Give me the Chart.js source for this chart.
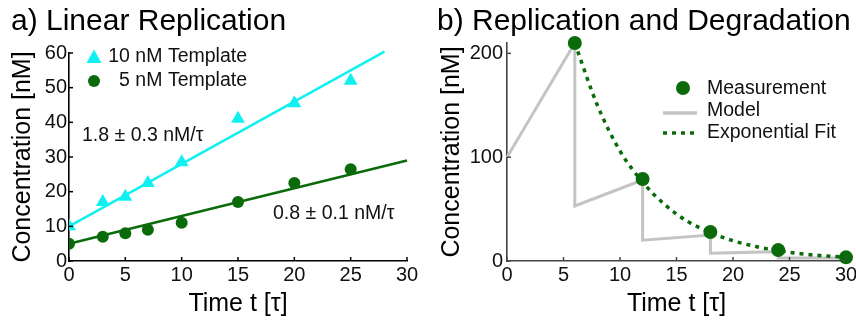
<!DOCTYPE html>
<html>
<head>
<meta charset="utf-8">
<script src="https://cdn.jsdelivr.net/npm/chart.js@4.4.1/dist/chart.umd.min.js"></script>
<style>
html,body{margin:0;padding:0;background:#fff;overflow:hidden;width:856px;height:322px;}
#wa{position:absolute;left:0;top:0;width:430px;height:322px;}
#wb{position:absolute;left:430px;top:0;width:440px;height:322px;}
</style>
</head>
<body>
<div id="wa"><canvas id="ca" width="430" height="322"></canvas></div>
<div id="wb"><canvas id="cb" width="440" height="322"></canvas></div>
<script>
// ---------- Panel a data ----------
const timesA = [0, 3, 5, 7, 10, 15, 20, 25];
const conc10nM = [10, 17, 18.5, 22.5, 28.5, 41, 45.5, 52];
const conc5nM = [5, 7, 8, 9, 11, 17, 22.5, 26.5];
const fitTimes10 = [0, 28];
const fitConc10 = [10, 60.4];
const fitTimes5 = [0, 30];
const fitConc5 = [5, 29];
const slopeTexts = ['1.8 ± 0.3 nM/τ', '0.8 ± 0.1 nM/τ'];
const legendA = ['10 nM Template', '5 nM Template'];
const xTicksA = [0, 5, 10, 15, 20, 25, 30];
const yTicksA = [0, 10, 20, 30, 40, 50, 60];

// ---------- Panel b data ----------
const timesB = [6, 12, 18, 24, 30];
const measB = [210, 79, 28, 10.5, 3.5];
const modelTimes = [0, 6, 6, 12, 12, 18, 18, 24, 24, 30];
const modelConc = [100, 210, 53, 78, 20, 25, 7.5, 9, 3, 3];
const expTimes = [6, 8, 10, 12, 14, 16, 18, 20, 22, 24, 26, 28, 30];
const expConc = [210, 150, 106, 76, 54, 38, 27.5, 19.5, 14, 10, 7, 5, 3.6];
const legendB = ['Measurement', 'Model', 'Exponential Fit'];
const xTicksB = [0, 5, 10, 15, 20, 25, 30];
const yTicksB = [0, 100, 200];

const titles = ['a) Linear Replication', 'b) Replication and Degradation'];
const FAM = '"Liberation Sans", Arial, Helvetica, sans-serif';
const CYAN = '#10f0f0';
const GREEN = '#0b6b0b';
const GRAY = '#c4c4c4';

const zip = (xs, ys) => xs.map((x, i) => ({x: x, y: ys[i]}));

function inwardTicks(color, len, width) {
  return {
    id: 'inwardTicks',
    afterDraw(chart) {
      const ctx = chart.ctx, a = chart.chartArea;
      ctx.save();
      ctx.strokeStyle = color; ctx.lineWidth = width;
      const xs = chart.scales.x, ys = chart.scales.y;
      xs.ticks.forEach(t => {
        const p = xs.getPixelForValue(t.value);
        ctx.beginPath(); ctx.moveTo(p, a.bottom); ctx.lineTo(p, a.bottom - len); ctx.stroke();
      });
      ys.ticks.forEach(t => {
        const p = ys.getPixelForValue(t.value);
        ctx.beginPath(); ctx.moveTo(a.left, p); ctx.lineTo(a.left + len, p); ctx.stroke();
      });
      ctx.restore();
    }
  };
}

function titlePlugin(text, x, y) {
  return {
    id: 'panelTitle',
    afterDraw(chart) {
      const ctx = chart.ctx;
      ctx.save();
      ctx.font = '30px ' + FAM;
      ctx.fillStyle = '#000';
      ctx.textAlign = 'left'; ctx.textBaseline = 'alphabetic';
      ctx.fillText(text, x, y);
      ctx.restore();
    }
  };
}

function axisCommon(min, max, tickValues, titleText, titlePad, borderColor) {
  return {
    type: 'linear', min: min, max: max,
    afterBuildTicks: s => { s.ticks = tickValues.map(v => ({value: v})); },
    ticks: {padding: 2, color: '#111', font: {size: 20, family: FAM}, autoSkip: false},
    grid: {drawOnChartArea: false, drawTicks: false},
    border: {color: borderColor, width: 1.6},
    title: {display: true, text: titleText, color: '#000', font: {size: 25, family: FAM, lineHeight: 1}, padding: titlePad}
  };
}

// ---------- Panel a ----------
const xa = axisCommon(0, 30, xTicksA, 'Time t [τ]', {top: 0, bottom: 5}, '#000');
xa.afterFit = s => { s.height = 61; };
const ya = axisCommon(0, 60, yTicksA, 'Concentration [nM]', {top: 11, bottom: 0}, '#000');
ya.afterFit = s => { s.width = 69; };

const legendPluginA = {
  id: 'legendA',
  afterDraw(chart) {
    const ctx = chart.ctx;
    ctx.save();
    ctx.fillStyle = CYAN;
    ctx.beginPath(); ctx.moveTo(94, 49.5); ctx.lineTo(101.5, 63); ctx.lineTo(86.5, 63); ctx.closePath(); ctx.fill();
    ctx.fillStyle = GREEN;
    ctx.beginPath(); ctx.arc(94, 81, 6, 0, Math.PI * 2); ctx.fill();
    ctx.font = '19.5px ' + FAM;
    ctx.fillStyle = '#111';
    ctx.textBaseline = 'middle'; ctx.textAlign = 'right';
    ctx.fillText(legendA[0], 247, 57);
    ctx.fillText(legendA[1], 247, 81);
    ctx.textAlign = 'left';
    ctx.fillText(slopeTexts[0], 82, 136);
    ctx.fillText(slopeTexts[1], 273, 214);
    ctx.restore();
  }
};

new Chart(document.getElementById('ca'), {
  type: 'scatter',
  data: {
    datasets: [
      {label: legendA[0], data: zip(timesA, conc10nM), pointStyle: 'triangle', pointRadius: 8, backgroundColor: CYAN, borderColor: CYAN, borderWidth: 0, order: 1},
      {label: legendA[1], data: zip(timesA, conc5nM), pointStyle: 'circle', pointRadius: 6, backgroundColor: GREEN, borderColor: GREEN, borderWidth: 0, order: 1},
      {label: 'fit10', type: 'line', data: zip(fitTimes10, fitConc10), borderColor: CYAN, borderWidth: 2.5, pointRadius: 0, fill: false, clip: false, order: 2},
      {label: 'fit5', type: 'line', data: zip(fitTimes5, fitConc5), borderColor: GREEN, borderWidth: 2.5, pointRadius: 0, fill: false, clip: false, order: 2}
    ]
  },
  options: {
    responsive: false, animation: false, devicePixelRatio: 1,
    layout: {padding: {top: 53, right: 23, left: 0, bottom: 0}},
    plugins: {legend: {display: false}, tooltip: {enabled: false}, title: {display: false}},
    scales: {x: xa, y: ya}
  },
  plugins: [inwardTicks('#000', 4, 1.5), titlePlugin(titles[0], 11, 30), legendPluginA]
});

// ---------- Panel b ----------
const xb = axisCommon(0, 30, xTicksB, 'Time t [τ]', {top: 0, bottom: 5}, '#444');
xb.afterFit = s => { s.height = 61; };
const yb = axisCommon(0, 210, yTicksB, 'Concentration [nM]', {top: 10, bottom: 0}, '#444');
yb.afterFit = s => { s.width = 77; };
yb.ticks.padding = 4;

const legendPluginB = {
  id: 'legendB',
  afterDraw(chart) {
    const ctx = chart.ctx;
    ctx.save();
    ctx.fillStyle = GREEN;
    ctx.beginPath(); ctx.arc(253, 88, 7, 0, Math.PI * 2); ctx.fill();
    ctx.strokeStyle = GRAY; ctx.lineWidth = 3.5;
    ctx.beginPath(); ctx.moveTo(233, 113); ctx.lineTo(267, 113); ctx.stroke();
    ctx.strokeStyle = GREEN; ctx.setLineDash([4, 5]);
    ctx.beginPath(); ctx.moveTo(233, 133); ctx.lineTo(269, 133); ctx.stroke();
    ctx.setLineDash([]);
    ctx.font = '19.5px ' + FAM;
    ctx.fillStyle = '#111';
    ctx.textBaseline = 'middle'; ctx.textAlign = 'left';
    ctx.fillText(legendB[0], 277, 89);
    ctx.fillText(legendB[1], 277, 111);
    ctx.fillText(legendB[2], 277, 133);
    ctx.restore();
  }
};

new Chart(document.getElementById('cb'), {
  type: 'scatter',
  data: {
    datasets: [
      {label: legendB[0], data: zip(timesB, measB), pointStyle: 'circle', pointRadius: 7, backgroundColor: GREEN, borderColor: GREEN, borderWidth: 0, clip: false, order: 1},
      {label: legendB[2], type: 'line', data: zip(expTimes, expConc), borderColor: GREEN, borderWidth: 3.5, borderDash: [4, 5], pointRadius: 0, fill: false, cubicInterpolationMode: 'monotone', clip: false, order: 2},
      {label: legendB[1], type: 'line', data: zip(modelTimes, modelConc), borderColor: GRAY, borderWidth: 3, pointRadius: 0, fill: false, tension: 0, clip: false, order: 3}
    ]
  },
  options: {
    responsive: false, animation: false, devicePixelRatio: 1,
    layout: {padding: {top: 43, right: 24, left: 0, bottom: 0}},
    plugins: {legend: {display: false}, tooltip: {enabled: false}, title: {display: false}},
    scales: {x: xb, y: yb}
  },
  plugins: [inwardTicks('#444', 4, 1.5), titlePlugin(titles[1], 7, 30), legendPluginB]
});
</script>
</body>
</html>
